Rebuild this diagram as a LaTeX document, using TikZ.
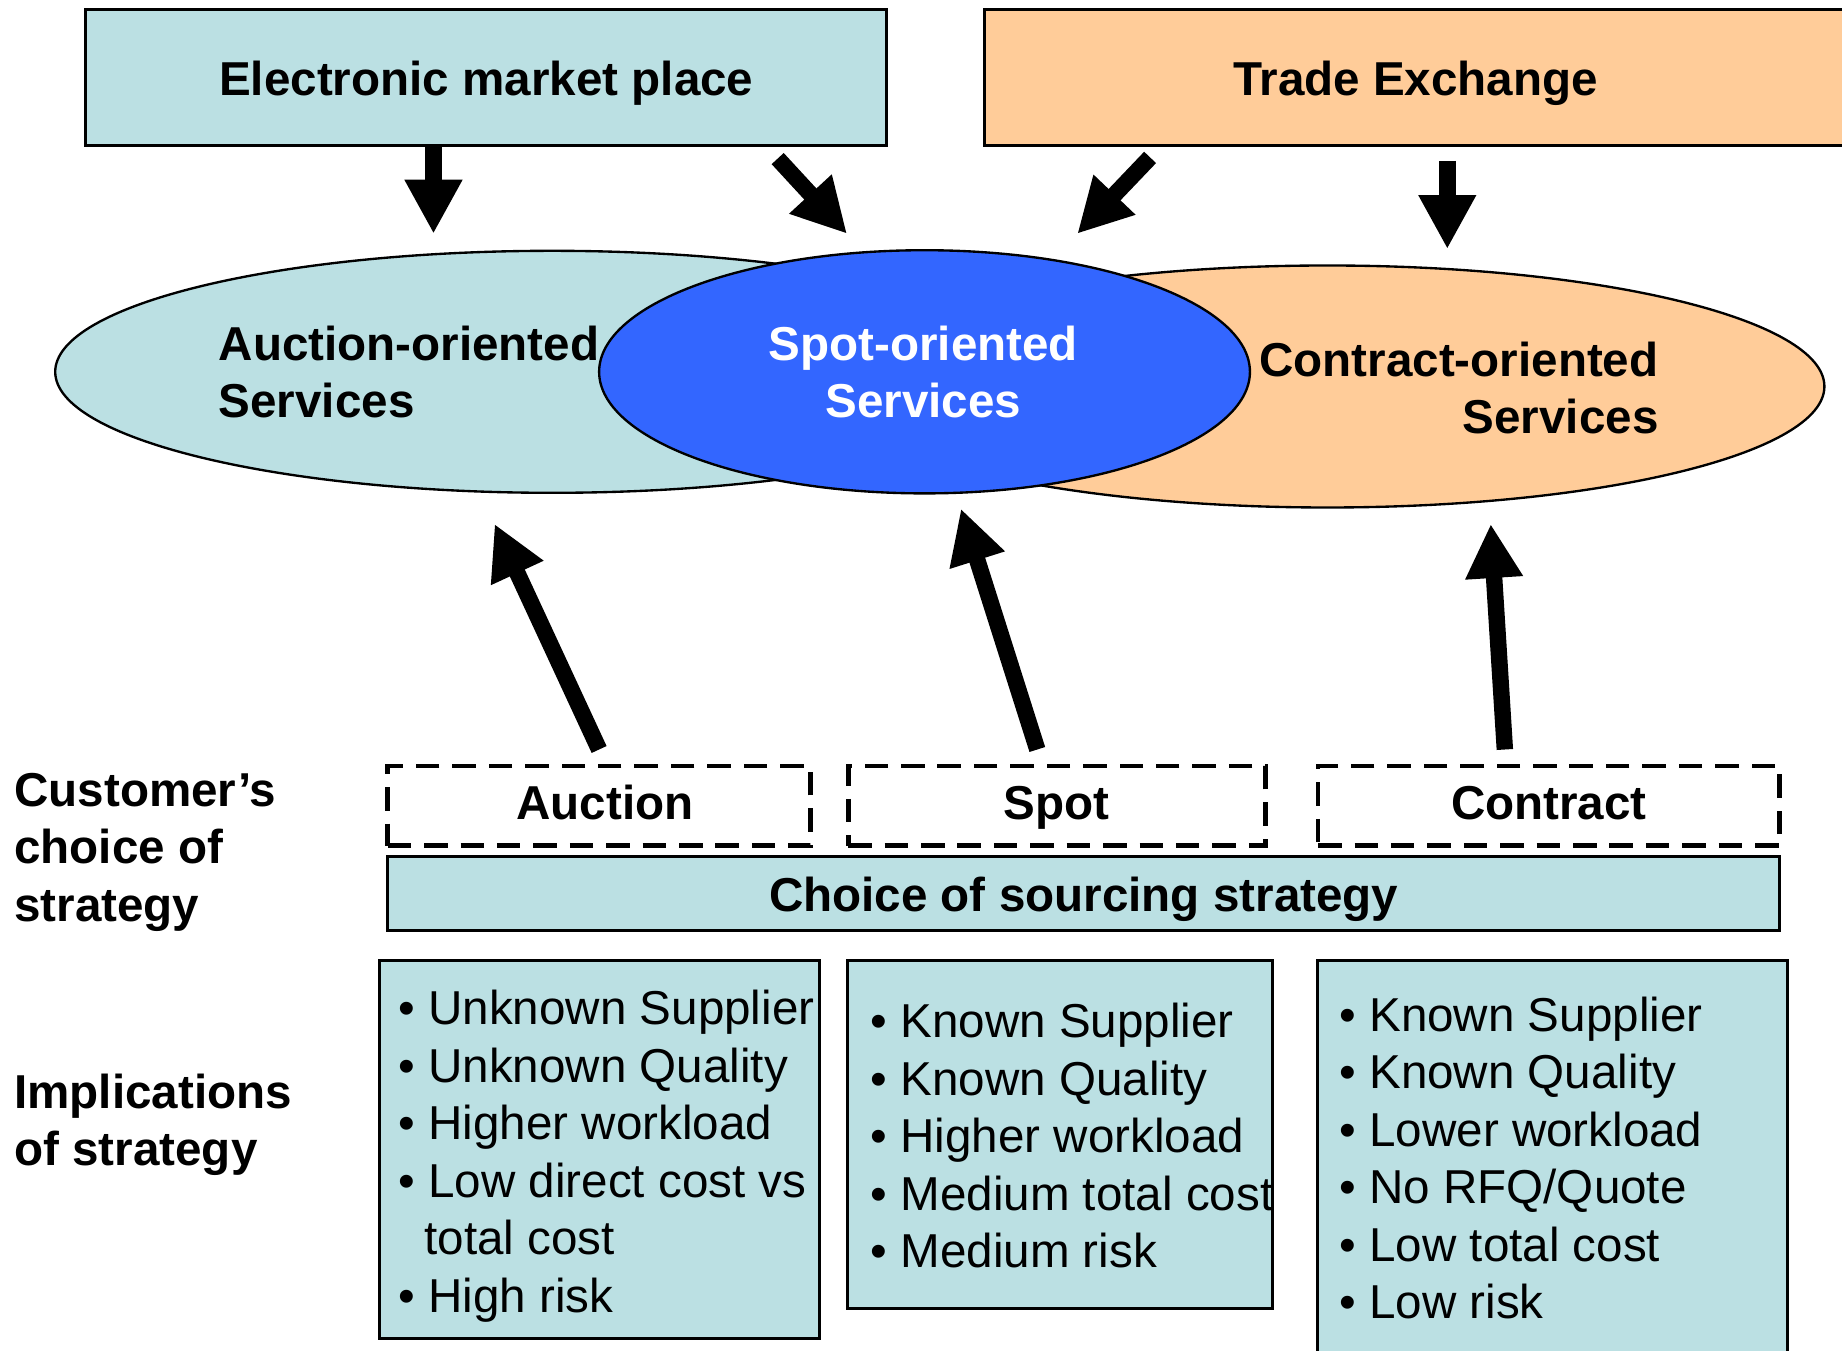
\documentclass[tikz,border=0pt]{standalone}
\usepackage{fontspec}
\setmainfont{Liberation Sans}
\usetikzlibrary{arrows.meta,shapes.geometric}
\definecolor{lblue}{RGB}{187,224,227}
\definecolor{lorange}{RGB}{255,204,153}
\definecolor{sblue}{RGB}{51,102,255}
\begin{document}
\begin{tikzpicture}[x=1pt,y=-1pt,
  txt/.style={font=\fontsize{40.5}{49}\selectfont, inner sep=0pt},
  btxt/.style={font=\fontsize{40.5}{49}\selectfont\bfseries, inner sep=0pt},
  boxnode/.style={draw=black, line width=2.5pt, inner sep=0pt},
  dashbox/.style={draw=black, line width=4pt, dash pattern=on 20pt off 11pt, inner sep=0pt, fill=white},
  oval/.style={ellipse, draw=black, line width=2pt, inner sep=0pt},
  blockarrow/.style={line width=14pt, -{Triangle[width=46pt,length=46pt]}}
]
\useasboundingbox (0,0) rectangle (1568,1150);

% top boxes
\node[boxnode, fill=lblue, btxt, minimum width=682pt, minimum height=116pt, text height=30pt, text depth=0pt] (emp) at (414,66) {Electronic market place};
\node[boxnode, fill=lorange, btxt, minimum width=734pt, minimum height=116pt, text height=30pt, text depth=0pt] (te) at (1205,66) {Trade Exchange};

% ellipses
\node[oval, fill=lblue, minimum width=846pt, minimum height=206pt] (auc) at (470,316.5) {};
\node[oval, fill=lorange, minimum width=846pt, minimum height=206pt] (con) at (1130,329) {};
\node[oval, fill=sblue, minimum width=554pt, minimum height=207pt] (spo) at (787,316.5) {};

\node[btxt, anchor=north west, align=left] (auct) at (186,272.2) {\strut Auction-oriented\\Services};
\node[btxt, anchor=north, align=center, text=white] (spot) at (786,272.2) {\strut Spot-oriented\\Services};
\node[btxt, anchor=north east, align=right] (cont) at (1412,285.7) {\strut Contract-oriented\\Services};

% arrows from top boxes
\coordinate (d1s) at (369,124);   \coordinate (d1e) at (369,199);
\coordinate (g1s) at (662,135);   \coordinate (g1e) at (721,199);
\coordinate (g2s) at (979,134);   \coordinate (g2e) at (917,199);
\coordinate (d2s) at (1232,137);  \coordinate (d2e) at (1232,212);
\draw[blockarrow] (d1s) -- (d1e);
\draw[blockarrow] (g1s) -- (g1e);
\draw[blockarrow] (g2s) -- (g2e);
\draw[blockarrow] (d2s) -- (d2e);

% strategy boxes
\node[dashbox, btxt, minimum width=360pt, minimum height=68pt, text height=24pt, text depth=0pt] (sauc) at (510,686) {\hspace*{10pt}Auction};
\node[dashbox, btxt, minimum width=355pt, minimum height=68pt, text height=24pt, text depth=0pt] (sspo) at (899.5,686) {Spot};
\node[dashbox, btxt, minimum width=393pt, minimum height=68pt, text height=24pt, text depth=0pt] (scon) at (1318.5,686) {Contract};
\node[boxnode, fill=lblue, btxt, minimum width=1185pt, minimum height=63pt, text height=31pt, text depth=0pt] (choice) at (922.5,760.5) {Choice of sourcing strategy};

% up arrows
\coordinate (u1s) at (510,638);  \coordinate (u1e) at (421,446);
\coordinate (u2s) at (883,638);  \coordinate (u2e) at (818,433);
\coordinate (u3s) at (1281,638); \coordinate (u3e) at (1269,446);
\draw[blockarrow] (u1s) -- (u1e);
\draw[blockarrow] (u2s) -- (u2e);
\draw[blockarrow] (u3s) -- (u3e);

% left labels
\node[btxt, anchor=north west, align=left] (lab1) at (12,651.7) {\strut Customer’s\\choice of\\strategy};
\node[btxt, anchor=north west, align=left] (lab2) at (12,908.7) {\strut Implications\\of strategy};

% implication boxes
\node[fill=lblue, inner sep=0pt, minimum width=374pt, minimum height=321pt] (imp1) at (510,978.5) {};
\node[fill=lblue, inner sep=0pt, minimum width=361pt, minimum height=296pt] (imp2) at (902.5,966) {};
\node[fill=lblue, inner sep=0pt, minimum width=399pt, minimum height=342pt] (imp3) at (1321.5,989) {};

\begin{scope}
\clip (imp1.south west) rectangle (imp1.north east);
\node[txt, anchor=north west, align=left] (l1) at (339,837.7) {\strut • Unknown Supplier\\• Unknown Quality\\• Higher workload\\• Low direct cost vs\\\hspace*{22pt}total cost\\• High risk};
\end{scope}
\begin{scope}
\clip (imp2.south west) rectangle (imp2.north east);
\node[txt, anchor=north west, align=left] (l2) at (741,848.7) {\strut • Known Supplier\\• Known Quality\\• Higher workload\\• Medium total cost\\• Medium risk};
\end{scope}
\begin{scope}
\clip (imp3.south west) rectangle (imp3.north east);
\node[txt, anchor=north west, align=left] (l3) at (1140,843.2) {\strut • Known Supplier\\• Known Quality\\• Lower workload\\• No RFQ/Quote\\• Low total cost\\• Low risk};
\end{scope}
\draw[line width=2.5pt] (imp1.south west) rectangle (imp1.north east);
\draw[line width=2.5pt] (imp2.south west) rectangle (imp2.north east);
\draw[line width=2.5pt] (imp3.south west) rectangle (imp3.north east);
\end{tikzpicture}
\end{document}
